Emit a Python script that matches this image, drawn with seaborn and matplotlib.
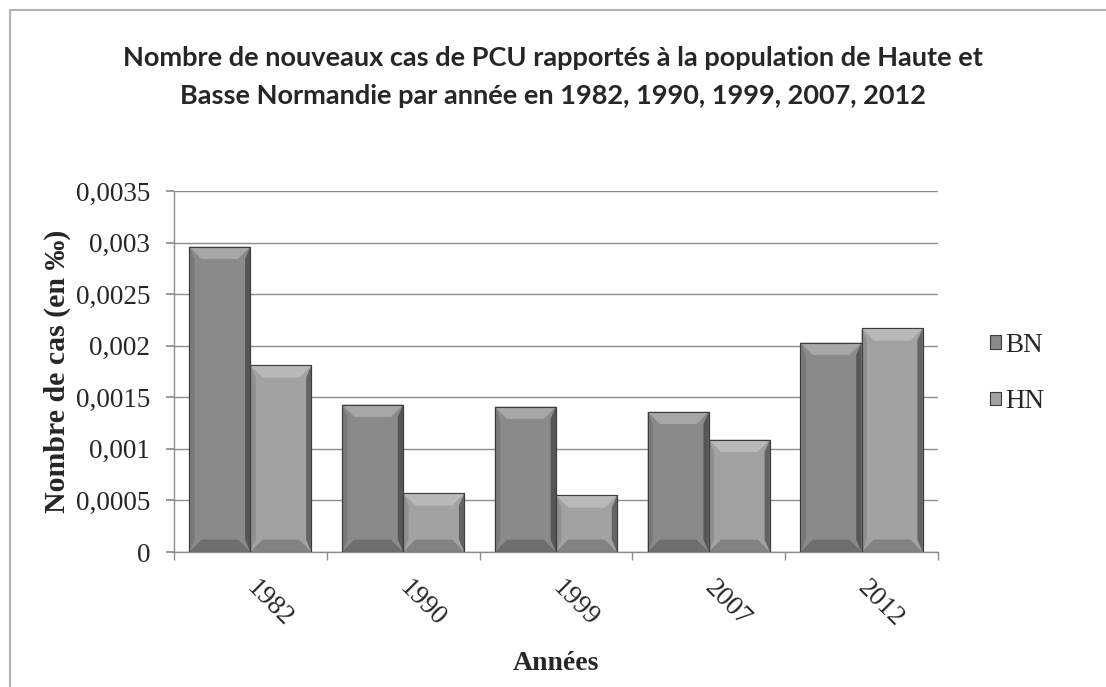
import matplotlib
matplotlib.use("Agg")
import pandas as pd
import matplotlib.pyplot as plt
import seaborn as sns
from matplotlib.patches import Polygon, Rectangle
from matplotlib.colors import to_rgb
from matplotlib.ticker import FuncFormatter, FixedLocator

# data
annees = ["1982", "1990", "1999", "2007", "2012"]
bn = [0.00296, 0.00143, 0.00141, 0.00136, 0.00203]
hn = [0.00181, 0.00057, 0.00055, 0.00109, 0.00217]
regions = ["BN", "HN"]

df = pd.DataFrame({
    "annee": annees * 2,
    "region": [regions[0]] * len(annees) + [regions[1]] * len(annees),
    "cas": bn + hn,
})

sns.set_theme(style="white")
serif = ["Liberation Serif", "DejaVu Serif"]
plt.rcParams["font.family"] = serif

fig = plt.figure(figsize=(11.06, 6.87), dpi=100)
ax = fig.add_axes([0.1573, 0.1965, 0.6908, 0.5255])

# chart border (only top and left visible in the reference)
fig.add_artist(Rectangle((9.5 / 1106, -0.1), 1.2, 1.1 - 9.5 / 687, transform=fig.transFigure,
                         fill=False, edgecolor="#b0b0b0", linewidth=1.5))

sns.barplot(data=df, x="annee", y="cas", hue="region", order=annees,
            palette={"BN": "#8a8a8a", "HN": "#a2a2a2"}, width=0.8,
            edgecolor="#3c3c3c", linewidth=0.8, saturation=1, ax=ax, zorder=3)

ax.set_ylim(0, 0.0035)
ax.set_xlim(-0.5, len(annees) - 0.5)

# bevel look, built from the bars seaborn drew
bx = 0.08     # bevel width in x data units
by = 0.00012  # bevel height in y data units
sx = 0.035    # side strip width

def shade(c, f):
    r, g, b = to_rgb(c)
    if f >= 0:
        return (r + (1 - r) * f, g + (1 - g) * f, b + (1 - b) * f)
    return (r * (1 + f), g * (1 + f), b * (1 + f))

for p in list(ax.patches):
    h = p.get_height()
    if h <= 0:
        continue
    x0, w = p.get_x(), p.get_width()
    x1 = x0 + w
    c = p.get_facecolor()
    polys = [
        ([(x0, 0), (x0, h), (x0 + sx, h - by), (x0 + sx, by)], shade(c, -0.12)),
        ([(x1, 0), (x1, h), (x1 - sx, h - by), (x1 - sx, by)], shade(c, -0.38)),
        ([(x0, h), (x1, h), (x1 - bx, h - by), (x0 + bx, h - by)], shade(c, 0.25)),
        ([(x0, 0), (x1, 0), (x1 - bx, by), (x0 + bx, by)], shade(c, -0.2)),
    ]
    for pts, col in polys:
        ax.add_patch(Polygon(pts, closed=True, facecolor=col, edgecolor="none", zorder=4))
    ax.add_patch(Rectangle((x0, 0), w, h, fill=False, edgecolor="#3c3c3c", linewidth=0.8, zorder=5))

ax.yaxis.set_major_locator(FixedLocator([i * 0.0005 for i in range(8)]))
ax.yaxis.set_major_formatter(FuncFormatter(
    lambda v, p: "0" if v == 0 else f"{v:.4f}".rstrip("0").replace(".", ",")))
ax.grid(axis="y", color="#8c8c8c", linewidth=1.0, zorder=0)
ax.set_axisbelow(True)

for s in ["top", "right"]:
    ax.spines[s].set_visible(False)
for s in ["left", "bottom"]:
    ax.spines[s].set_color("#8c8c8c")
    ax.spines[s].set_linewidth(1.0)

# tick marks at category boundaries
ax.set_xticks([i - 0.5 for i in range(len(annees) + 1)], minor=True)
ax.tick_params(axis="x", which="minor", length=6, color="#8c8c8c", direction="out", bottom=True)
ax.tick_params(axis="x", which="major", length=0, pad=23)
ax.tick_params(axis="y", which="major", length=6, color="#8c8c8c", direction="out", left=True,
               labelsize=19.5, pad=11)
for lab in ax.get_xticklabels():
    lab.set_rotation(-45)
    lab.set_rotation_mode("anchor")
    lab.set_ha("left")
    lab.set_va("center")
    lab.set_fontsize(19.5)

ax.set_xlabel("Années", fontsize=20, fontweight="bold")
ax.xaxis.set_label_coords(0.5, -(651 - 552) / 361)
ax.set_ylabel("Nombre de cas (en ‰)", fontsize=21.5, fontweight="bold")
ax.yaxis.set_label_coords((71 - 174) / 764, 0.5)

ax.legend(loc="upper left", bbox_to_anchor=(990 / 1106, 1 - 333 / 687),
          bbox_transform=fig.transFigure, frameon=False, borderpad=0, borderaxespad=0,
          fontsize=19.5, handlelength=0.4, handleheight=0.4, handletextpad=0.15,
          labelspacing=1.15)

fig.suptitle("Nombre de nouveaux cas de PCU rapportés à la population de Haute et\n"
             "Basse Normandie par année en 1982, 1990, 1999, 2007, 2012",
             x=0.5, y=1 - 46 / 687, fontsize=19.5, fontweight="bold",
             family=["Lato", "DejaVu Sans"], linespacing=1.7)

fig.savefig("out.png", dpi=100)
